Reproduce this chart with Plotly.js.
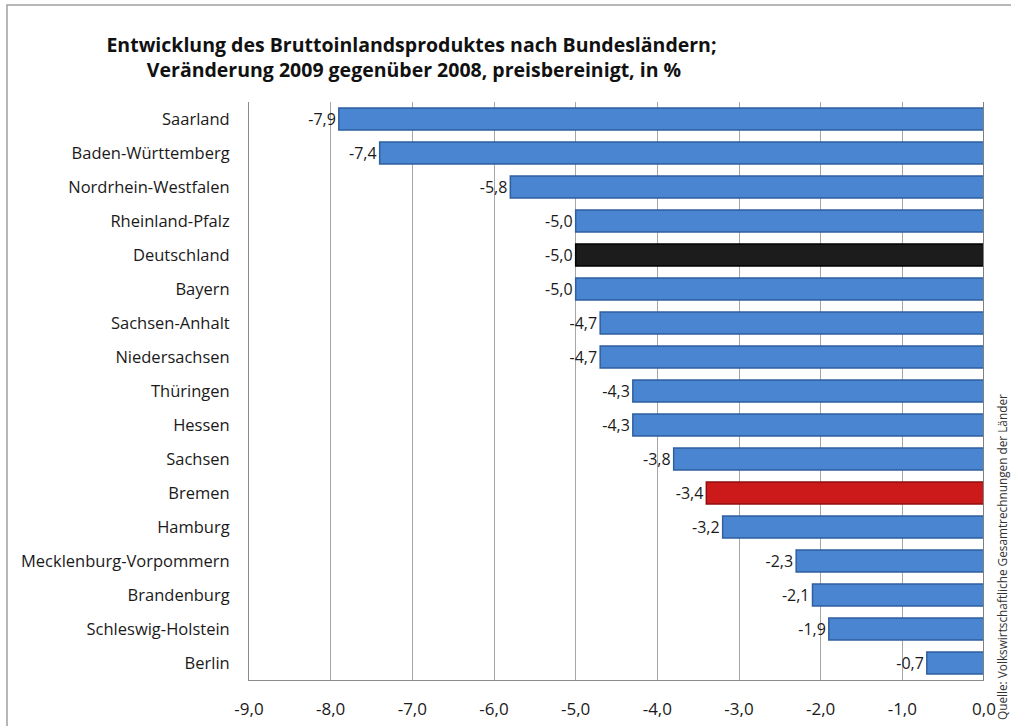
<!DOCTYPE html>
<html><head><meta charset="utf-8">
<script src="https://cdn.plot.ly/plotly-3.0.1.min.js"></script>
<style>html,body{margin:0;padding:0;background:#fff;}#chart{width:1011px;height:726px;}</style>
</head><body><div id="chart"></div>
<script>
const regions = ["Saarland","Baden-Württemberg","Nordrhein-Westfalen","Rheinland-Pfalz","Deutschland","Bayern","Sachsen-Anhalt","Niedersachsen","Thüringen","Hessen","Sachsen","Bremen","Hamburg","Mecklenburg-Vorpommern","Brandenburg","Schleswig-Holstein","Berlin"];
const changes = [-7.9,-7.4,-5.8,-5.0,-5.0,-5.0,-4.7,-4.7,-4.3,-4.3,-3.8,-3.4,-3.2,-2.3,-2.1,-1.9,-0.7];
const tickValues = [-9,-8,-7,-6,-5,-4,-3,-2,-1,0];
const tickLabels = ["-9,0","-8,0","-7,0","-6,0","-5,0","-4,0","-3,0","-2,0","-1,0","0,0"];

const fillColors = regions.map(r => r==="Deutschland" ? "#1c1c1c" : r==="Bremen" ? "#cc1a1a" : "#4a85d2");
const lineColors = regions.map(r => r==="Deutschland" ? "#000000" : r==="Bremen" ? "#8e0f0f" : "#2f5f9e");
const fnt = "'Open Sans', Lato, 'Liberation Sans', sans-serif";

const trace = {
  type: "bar", orientation: "h",
  y: regions, x: changes,
  marker: {color: fillColors, line: {color: lineColors, width: 1.5}},
  width: 0.65,
  text: changes.map(v => v.toFixed(1).replace(".", ",")),
  textposition: "outside",
  textfont: {family: fnt, size: 16, color: "#1a1a1a"},
  cliponaxis: false,
  hoverinfo: "none"
};

const L = 249, R = 984, T = 102, B = 680;
const pw = R - L, ph = B - T;
const layout = {
  width: 1011, height: 726,
  margin: {l: L, r: 1011 - R, t: T, b: 726 - B},
  paper_bgcolor: "#ffffff", plot_bgcolor: "#ffffff",
  showlegend: false,
  title: {
    text: "<b>Entwicklung des Bruttoinlandsproduktes nach Bundesländern;<br> Veränderung 2009 gegenüber 2008, preisbereinigt, in %</b>",
    font: {family: fnt, size: 19.5, color: "#111"},
    x: 0.407, xanchor: "center", y: 0.929, yanchor: "top"
  },
  xaxis: {
    range: [-9, 0], tickvals: tickValues, ticktext: tickLabels,
    showgrid: true, gridcolor: "#a6a6a6", gridwidth: 1,
    zeroline: false, showline: true, linecolor: "#8c8c8c", linewidth: 1,
    mirror: false, ticks: "", ticklabelstandoff: 14,
    tickfont: {family: fnt, size: 17, color: "#1a1a1a"}
  },
  yaxis: {
    autorange: "reversed", showgrid: false, zeroline: false,
    showline: true, linecolor: "#8c8c8c", linewidth: 1,
    ticks: "", ticklabelstandoff: 15,
    tickfont: {family: fnt, size: 16.5, color: "#1a1a1a"}
  },
  shapes: [
    {type: "line", xref: "x", yref: "paper", x0: 0, x1: 0, y0: 0, y1: 1, line: {color: "#7f7f7f", width: 2}, layer: "above"},
    {type: "rect", xref: "paper", yref: "paper",
     x0: (7 - L) / pw, x1: (1015 - L) / pw, y0: (B - 730) / ph, y1: (B - 5) / ph,
     line: {color: "#a0a0a0", width: 1.5}, fillcolor: "rgba(0,0,0,0)", layer: "below"}
  ],
  annotations: [
    {text: "Quelle: Volkswirtschaftliche Gesamtrechnungen der Länder", xref: "paper", yref: "paper",
     x: (1002 - L) / pw, y: (B - 722) / ph, xanchor: "center", yanchor: "bottom", textangle: -90,
     showarrow: false, font: {family: fnt, size: 11.8, color: "#333"}}
  ]
};
Plotly.newPlot("chart", [trace], layout, {displayModeBar: false, staticPlot: true});
</script></body></html>
